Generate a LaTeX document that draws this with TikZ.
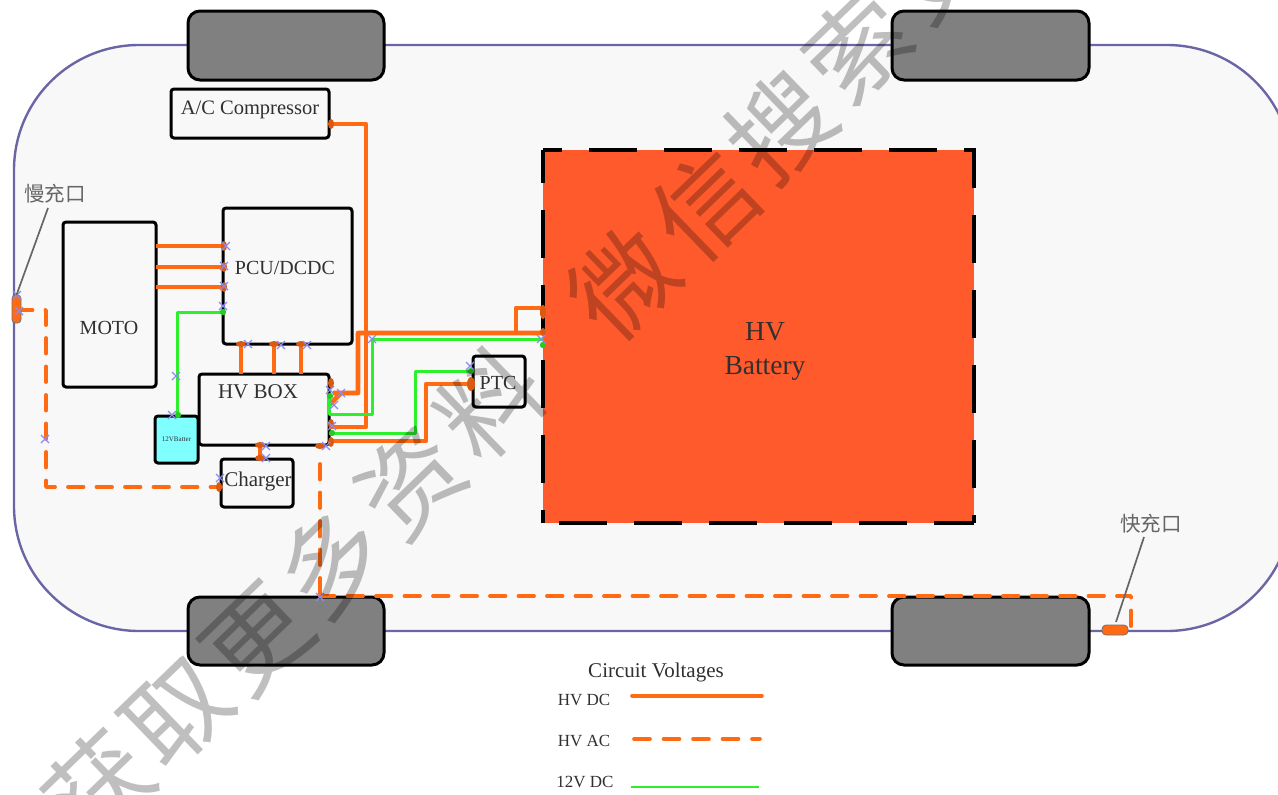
\documentclass[tikz,border=0pt]{standalone}
\usepackage{fontspec}
\setmainfont{Liberation Serif}
\newfontfamily\cjk{Noto Sans CJK SC}
\usetikzlibrary{calc}
\definecolor{hv}{HTML}{FF6A13}
\definecolor{lv}{HTML}{2BF02B}
\definecolor{bodyfill}{HTML}{F8F8F8}
\definecolor{bodyline}{HTML}{6A66A6}
\definecolor{batt}{HTML}{FF5A2C}
\definecolor{cyanb}{HTML}{7FFFFF}
\definecolor{mark}{HTML}{8C8CF0}
\definecolor{txt}{HTML}{303030}
\tikzset{
 box/.style={draw=black,line width=3pt,rounded corners=3pt,fill=bodyfill,inner sep=0pt,outer sep=0pt,text=txt,font=\fontsize{21}{23}\selectfont,anchor=north west},
 tag/.style={inner sep=0pt,text=txt,font=\fontsize{20}{22}\selectfont},
 wheel/.style={draw=black,line width=3pt,rounded corners=12pt,fill=black!50,inner sep=0pt,outer sep=0pt,anchor=north west},
 hvdc/.style={draw=hv,line width=4.6pt,line join=round},
 hvac/.style={draw=hv,line width=3.8pt,dash pattern=on 15.5pt off 13pt,line cap=round,line join=round},
 dcl/.style={draw=lv,line width=3pt,line join=round},
 lab/.style={inner sep=0pt,text=txt,font=\fontsize{17}{19}\selectfont},
 cn/.style={inner sep=0pt,text=black!60,font=\cjk\fontsize{20.5}{22}\selectfont},
 wm/.style={inner sep=0pt,rotate=44,text=black,text opacity=.25,font=\cjk\fontsize{102}{104}\selectfont},
 lead/.style={draw=black!60,line width=1.7pt},
 xm/.style={draw=mark,line width=1.1pt},
 port/.style={fill=hv!85!black},
 bdash/.style={black,line width=3.4pt,dash pattern=on 48pt off 27pt},
}
\begin{document}
\begin{tikzpicture}[x=1pt,y=-1pt]
\useasboundingbox (0,0) rectangle (1278,795);
\clip (0,0) rectangle (1278,795);
\fill[white] (0,0) rectangle (1278,795);
% car body
\draw[bodyline,line width=2.4pt,fill=bodyfill,rounded corners=125pt] (14,45) rectangle (1292,631);
% wheels
\node[wheel,minimum width=196pt,minimum height=69pt] (w1) at (188,11) {};
\node[wheel,minimum width=197pt,minimum height=69pt] (w2) at (892,11) {};
\node[wheel,minimum width=196pt,minimum height=68pt] (w3) at (188,597) {};
\node[wheel,minimum width=197pt,minimum height=68pt] (w4) at (892,597) {};
% boxes
\node[box,minimum width=158pt,minimum height=49pt] (ac) at (171,89) {};
\node[tag,font=\fontsize{20.5}{22}\selectfont] (act) at (250,110) {A/C Compressor};
\node[box,minimum width=93pt,minimum height=165pt] (moto) at (63,222) {};
\node[tag] (motot) at (109,328) {MOTO};
\node[box,minimum width=129pt,minimum height=136pt] (pcu) at (223,208) {};
\node[tag] (pcut) at (285,268) {PCU/DCDC};
\node[box,minimum width=130pt,minimum height=71pt] (hvb) at (199,374) {};
\node[tag,font=\fontsize{21}{23}\selectfont] (hvbt) at (258,392) {HV BOX};
\node[box,fill=cyanb,minimum width=43pt,minimum height=47pt,font=\fontsize{7}{8}\selectfont] (lvb) at (155,416) {12VBatter};
\node[box,minimum width=72pt,minimum height=48pt] (chg) at (221,459) {};
\node[tag,font=\fontsize{21}{23}\selectfont] (chgt) at (258,481) {Charger};
\node[box,minimum width=52pt,minimum height=51pt] (ptc) at (473,356) {};
\node[tag] (ptct) at (498,383) {PTC};
\node[anchor=north west,inner sep=0pt,outer sep=0pt,fill=batt,minimum width=431pt,minimum height=373pt] (bat) at (543,150) {};
\draw[bdash,dash phase=29pt] (bat.north west) -- (bat.north east) -- (bat.south east);
\draw[bdash,dash phase=15pt] (bat.north west) -- (bat.south west);
\draw[bdash,dash phase=8pt] (bat.south east) -- (bat.south west);
\node[align=center,inner sep=0pt,text=txt,font=\fontsize{27.5}{34}\selectfont] (batt) at (765,351) {HV\\Battery};
% HV DC
\foreach \y in {246,267,287}
  \draw[hvdc] (moto.east |- 0,\y) -- (pcu.west |- 0,\y);
\foreach \x in {241,274,301}
  \draw[hvdc] (pcu.south -| \x,0) -- (hvb.north -| \x,0);
\draw[hvdc] (hvb.south -| 260,0) -- (chg.north -| 260,0);
\draw[hvdc] (ac.east |- 0,124) -- (366,124) -- (366,427) -- (hvb.east |- 0,427);
\draw[hvdc] (hvb.east |- 0,405) -- (341,393) (333,393) -- (358,393) -- (358,333) -- (bat.west |- 0,333);
\draw[hvdc] (516,333) -- (516,308) -- (bat.west |- 0,308);
\draw[hvdc] (hvb.east |- 0,441) -- (426,441) -- (426,384) -- (ptc.west |- 0,384);
% 12V DC
\draw[dcl] (pcu.west |- 0,312) -- (177,312) -- (lvb.north -| 177,0);
\draw[dcl] (hvb.east |- 0,396) -- (hvb.east |- 0,414) -- (372,414) -- (372,339) -- (bat.west |- 0,339);
\draw[dcl] (hvb.east |- 0,433) -- (415,433) -- (415,371) -- (ptc.west |- 0,371);
% HV AC
\coordinate (slow) at (17,310);
\coordinate (fast) at (1110,630);
\draw[hvac] (slow) -- (46,310) -- (46,487) -- (chg.west |- 0,487);
\draw[hvac,dash phase=15.5pt] (320,451) -- (320,596);
\draw[hvac,dash phase=1pt] (320,596) -- (1131,596) -- (1131,630) -- (fast);
% charge ports
\node[anchor=north west,draw=black!55,line width=.8pt,fill=hv,rounded corners=3.5pt,minimum width=9pt,minimum height=28pt,inner sep=0pt,outer sep=0pt] (sp) at (12,295) {};
\node[anchor=north west,draw=black!55,line width=.8pt,fill=hv,rounded corners=4pt,minimum width=26pt,minimum height=10pt,inner sep=0pt,outer sep=0pt] (fp) at (1102,625) {};
% terminals
\foreach \x/\y/\a/\b in {224/246/3/5,224/267/3/5,224/287/3/5,241/344/5/3,274/344/5/3,301/344/5/3,260/445/5/3,260/458/5/3,
  331/124/3/5,331/383/3/5,331/424/3/5,331/442/3/5,320/446/5/3,219/487/3/5,543/312/3/7,543/332/3/4,471/384/4/7}
  \fill[port] (\x,\y) ellipse (\a pt and \b pt);
\foreach \x/\y in {223/312,178/415,330/396,332/433,543/345,471/371}
  \fill[lv!85!black] (\x,\y) circle (3.2pt);
% crosses
\foreach \x/\y in {226/246,224/266,224/286,223/306,176/376,172/415,248/344,281/345,307/345,266/446,266/458,220/478,
  330/390,341/393,334/405,332/426,326/446,372/339,541/339,470/366,17/295,19/311,45/439,320/597}
  \draw[xm] (\x-4,\y-4) -- (\x+4,\y+4) (\x-4,\y+4) -- (\x+4,\y-4);
% labels
\node[cn] (l1) at (55,194) {慢充口};
\node[cn] (l2) at (1151,524) {快充口};
\draw[lead] (48,208) -- (sp.north);
\draw[lead] (1144,537) -- (1116,622);
% legend
\node[lab,font=\fontsize{21}{23}\selectfont] (lt) at (656,672) {Circuit Voltages};
\node[lab] (k1) at (584,700) {HV DC};
\node[lab] (k2) at (584,741) {HV AC};
\node[lab] (k3) at (585,782) {12V DC};
\coordinate (a1) at (632,696); \coordinate (b1) at (762,696);
\coordinate (a2) at (634,739); \coordinate (b2) at (760,739);
\coordinate (a3) at (631,787); \coordinate (b3) at (759,787);
\draw[hv,line width=3.6pt,line cap=round] (a1) -- (b1);
\draw[hv,line width=3.6pt,line cap=round,dash pattern=on 16pt off 13.5pt] (a2) -- (b2);
\draw[lv,line width=2.6pt] (a3) -- (b3);
% watermark
\foreach \i/\x/\y/\c in {1/98/786/获,2/178/713/取,3/258/640/更,4/331/562/多,5/410/482/资,6/490/403/料,7/623/283/微,8/705/205/信,9/780/127/搜,10/857/47/索,11/937/-32/更}
  \node[wm] (wm\i) at (\x,\y) {\c};
\end{tikzpicture}
\end{document}
